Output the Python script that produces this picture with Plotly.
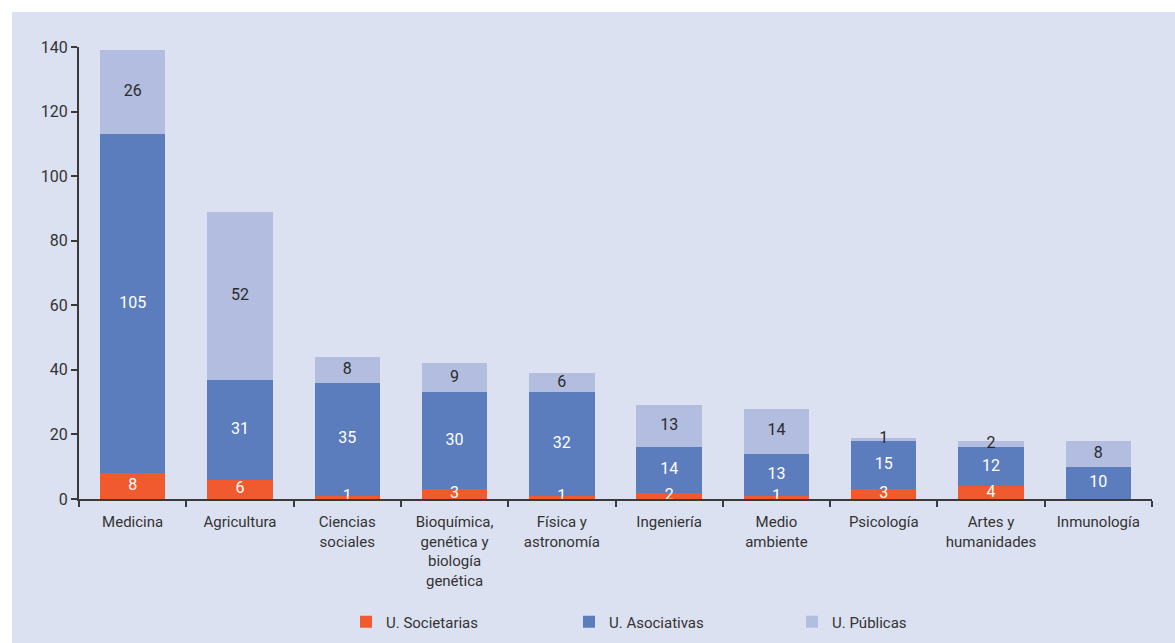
import plotly.graph_objects as go

categories = ["Medicina", "Agricultura", "Ciencias<br>sociales", "Bioquímica,<br>genética y<br>biología<br>genética",
              "Física y<br>astronomía", "Ingeniería", "Medio<br>ambiente", "Psicología", "Artes y<br>humanidades", "Inmunología"]
societarias = [8, 6, 1, 3, 1, 2, 1, 3, 4, 0]
asociativas = [105, 31, 35, 30, 32, 14, 13, 15, 12, 10]
publicas = [26, 52, 8, 9, 6, 13, 14, 1, 2, 8]
y_ticks = [0, 20, 40, 60, 80, 100, 120, 140]

BG = "#DCE1F1"
FONT = "Roboto"
series = [
    ("U. Societarias", societarias, "#F15A2F", "white"),
    ("U. Asociativas", asociativas, "#5B7DBE", "white"),
    ("U. Públicas", publicas, "#B3BDE0", "#2b2b2b"),
]

fig = go.Figure()
base = [0] * len(categories)
label_traces = []
for name, vals, color, tcol in series:
    fig.add_trace(go.Bar(name=name, x=categories, y=vals, marker_color=color, marker_line_width=0))
    mids = [b + v / 2 for b, v in zip(base, vals)]
    label_traces.append(go.Scatter(
        x=categories, y=mids, mode="text", text=[str(v) if v else "" for v in vals],
        textposition="middle center", textfont=dict(family=FONT, size=16, color=tcol),
        showlegend=False, hoverinfo="skip", cliponaxis=False,
    ))
    base = [b + v for b, v in zip(base, vals)]
for t in label_traces:
    fig.add_trace(t)

W, H = 1175, 643
ml, mr, mt, mb = 79, 23, 47, 144
pw, ph = W - ml - mr, H - mt - mb

def px_x(p):
    return (p - ml) / pw

def px_y(p):
    return (H - mb - p) / ph

fig.update_layout(
    width=W, height=H, barmode="stack", bargap=0.39,
    margin=dict(l=ml, r=mr, t=mt, b=mb, pad=0, autoexpand=False),
    paper_bgcolor=BG, plot_bgcolor=BG,
    font=dict(family=FONT, size=15, color="#333333"),
    showlegend=True,
    legend=dict(orientation="h", x=px_x(346), xanchor="left", y=px_y(622), yanchor="middle",
                entrywidth=178, entrywidthmode="pixels", bgcolor="rgba(0,0,0,0)", borderwidth=0,
                font=dict(family=FONT, size=15, color="#333333"), traceorder="normal"),
    shapes=[
        dict(type="rect", xref="paper", yref="paper", x0=px_x(0), x1=px_x(W), y0=px_y(0), y1=px_y(12),
             fillcolor="white", line_width=0, layer="below"),
        dict(type="rect", xref="paper", yref="paper", x0=px_x(0), x1=px_x(12), y0=px_y(H), y1=px_y(0),
             fillcolor="white", line_width=0, layer="below"),
    ],
)
fig.update_xaxes(showline=True, linecolor="#3a3a3a", linewidth=2, ticks="outside", tickson="boundaries",
                 ticklen=6, tickcolor="#3a3a3a", tickwidth=2, showgrid=False, ticklabelstandoff=8,
                 automargin=False, tickfont=dict(family=FONT, size=15, color="#333333"))
fig.update_yaxes(range=[0, 140], tickvals=y_ticks, showline=True, linecolor="#3a3a3a", linewidth=2,
                 ticks="outside", ticklen=6, tickcolor="#3a3a3a", tickwidth=2, showgrid=False,
                 automargin=False, zeroline=False, tickfont=dict(family=FONT, size=16, color="#333333"))

fig.write_html(
    "out.html",
    config={"displayModeBar": False},
    post_script=("document.documentElement.style.margin='0';document.documentElement.style.padding='0';"
                 "document.documentElement.style.overflow='hidden';"
                 "document.body.style.margin='0';document.body.style.padding='0';"
                 "document.body.style.overflow='hidden';"),
)
